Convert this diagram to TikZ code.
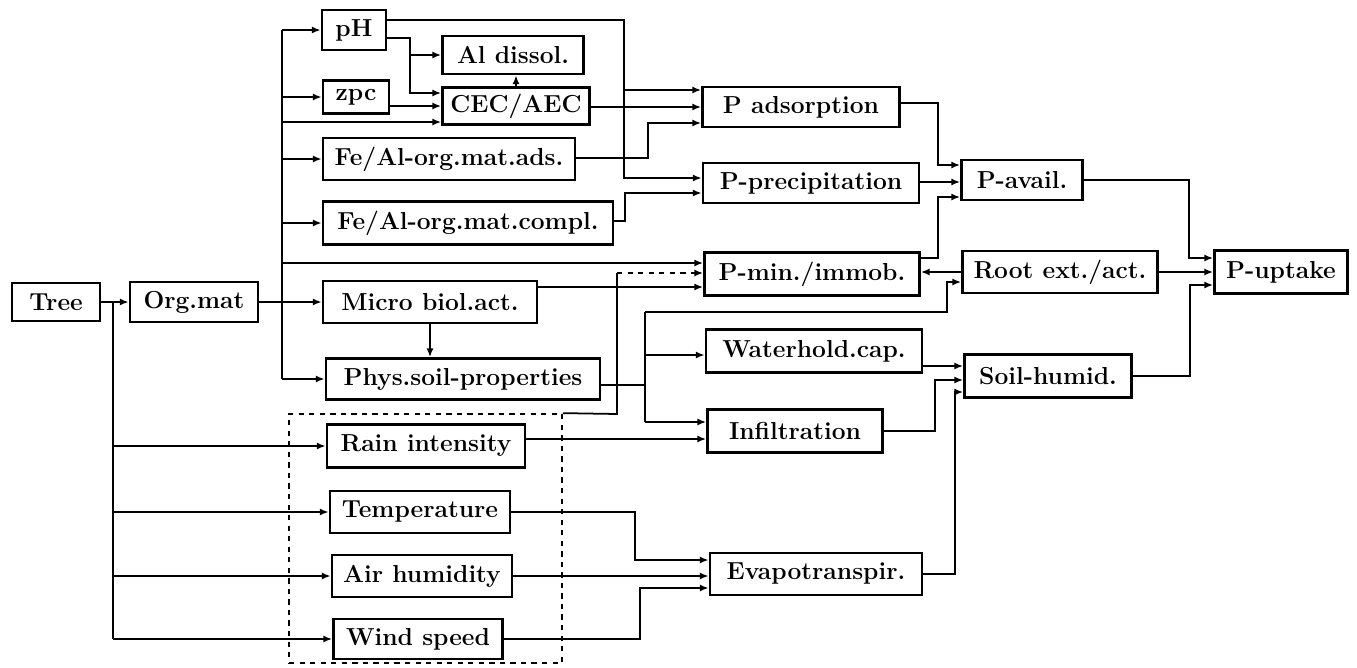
\documentclass[tikz,border=0pt]{standalone}
\usepackage{tikz}
\usetikzlibrary{positioning, arrows.meta}

\newlength{\bu}
\setlength{\bu}{0.02cm}

\begin{document}
\begin{tikzpicture}[x=0.02cm, y=-0.02cm,
    box/.style={draw, line width=1.5pt, inner sep=2pt, fill=white,
      font=\fontsize{14}{16}\selectfont\bfseries},
    dims/.style 2 args={minimum width=#1\bu, minimum height=#2\bu},
    wire/.style={line width=1pt},
    link/.style={line width=1pt, -{Latex[length=5pt,width=4pt]}}]

    \useasboundingbox (0,0) rectangle (1357,667);

    % climate group
    \node[draw, dashed, line width=1pt, dims={273}{249}] (clim) at (425.5,538.5) {};

    \node[box, dims={88}{38}] (tree) at (56,302) {Tree};
    \node[box, dims={128}{40}] (orgmat) at (194,302) {Org.mat};

    \node[box, dims={64}{40}] (ph) at (354,30) {pH};
    \node[box, dims={141}{38}] (aldis) at (513,55) {Al dissol.};
    \node[box, dims={66}{33}] (zpc) at (356,97) {zpc};
    \node[box, dims={147}{37}] (cec) at (516,106) {CEC/AEC};
    \node[box, dims={252}{42}] (feads) at (449,159) {Fe/Al-org.mat.ads.};
    \node[box, dims={290}{43}] (fecompl) at (468,223) {Fe/Al-org.mat.compl.};
    \node[box, dims={214}{42}] (micro) at (430,302) {Micro biol.act.};
    \node[box, dims={274}{41}] (phys) at (463,379) {Phys.soil-properties};

    \node[box, dims={198}{43}] (rain) at (426,446) {Rain intensity};
    \node[box, dims={180}{42}] (temp) at (420,512) {Temperature};
    \node[box, dims={180}{42}] (airh) at (422,576) {Air humidity};
    \node[box, dims={169}{40}] (wind) at (418,639) {Wind speed};

    \node[box, dims={197}{40}] (pads) at (801,107) {P adsorption};
    \node[box, dims={216}{40}] (pprec) at (811,183) {P-precipitation};
    \node[box, dims={215}{43}] (pmin) at (812,274) {P-min./immob.};
    \node[box, dims={216}{43}] (water) at (814,351) {Waterhold.cap.};
    \node[box, dims={175}{43}] (infil) at (795,431) {Infiltration};
    \node[box, dims={212}{42}] (evapo) at (816,574) {Evapotranspir.};

    \node[box, dims={121}{40}] (pavail) at (1022,180) {P-avail.};
    \node[box, dims={195}{42}] (root) at (1060,272) {Root ext./act.};
    \node[box, dims={167}{43}] (soilh) at (1048,376) {Soil-humid.};
    \node[box, dims={133}{43}] (puptake) at (1281,272) {P-uptake};

    \coordinate (trunk) at (282,30);
    \coordinate (tj) at (113,302);

    % tree and organic matter
    \draw[link] (tree) -- (orgmat);
    \draw[link] (orgmat) -- (micro);
    \draw[wire] (tj) -- (tj |- wind.west);
    \draw[link] (tj |- rain.west) -- (rain.west);
    \draw[link] (tj |- temp.west) -- (temp.west);
    \draw[link] (tj |- airh.west) -- (airh.west);
    \draw[link] (tj |- wind.west) -- (wind.west);

    \draw[wire] (trunk) -- (trunk |- phys.west);
    \draw[link] (trunk) -- (ph.west);
    \draw[link] (trunk |- zpc.west) -- (zpc.west);
    \draw[link] (trunk |- 0,122) -- (cec.west |- 0,122);
    \draw[link] (trunk |- feads.west) -- (feads.west);
    \draw[link] (trunk |- fecompl.west) -- (fecompl.west);
    \draw[link] (trunk |- 0,263) -- (pmin.west |- 0,263);
    \draw[link] (trunk |- phys.west) -- (phys.west);

    % soil chemistry
    \draw[link] (ph.east |- 0,20) -| (624,178) -- (pprec.west |- 0,178);
    \draw[link] (624,90) -- (pads.west |- 0,90);
    \draw[link] (ph.east |- 0,38) -| (410,93) -- (cec.west |- 0,93);
    \draw[link] (410,55) -- (aldis.west);
    \draw[link] (zpc.east |- 0,106) -- (cec.west |- 0,106);
    \draw[link] (cec) -- (cec |- aldis.south);
    \draw[link] (cec.east |- 0,107) -- (pads.west |- 0,107);
    \draw[link] (feads.east |- 0,158) -| (648,123) -- (pads.west |- 0,123);
    \draw[link] (fecompl.east |- 0,221) -| (625,193) -- (pprec.west |- 0,193);

    % phosphorus
    \draw[link] (pads.east |- 0,103) -| (938,165) -- (pavail.west |- 0,165);
    \draw[link] (pprec.east |- 0,182) -- (pavail.west |- 0,182);
    \draw[link] (pmin.east |- 0,258) -| (938,197) -- (pavail.west |- 0,197);
    \draw[link] (pavail.east) -| (1189,258) -- (puptake.west |- 0,258);
    \draw[link] (root) -- (puptake);
    \draw[link] (soilh.east) -| (1190,285) -- (puptake.west |- 0,285);
    \draw[link] (root.west) -- (pmin.east |- root.west);
    \draw[link] (micro.east |- 0,287) -- (pmin.west |- 0,287);
    \draw[wire] (clim.north east) -- (617,414) -- (617,273);
    \draw[link, dashed] (617,273) -- (pmin.west |- 0,273);

    % water
    \draw[link] (micro) -- (micro |- phys.north);
    \draw[wire] (phys.east |- 0,385) -- (645,385);
    \draw[wire] (645,312) -- (645,422);
    \draw[link] (645,312) -- (947,312) -- (947,282) -- (root.west |- 0,282);
    \draw[link] (645,355) -- (water.west |- 0,355);
    \draw[link] (645,422) -- (infil.west |- 0,422);
    \draw[link] (rain.east |- 0,439) -- (infil.west |- 0,439);
    \draw[link] (water.east |- 0,366) -- (soilh.west |- 0,366);
    \draw[link] (infil.east) -| (935,380) -- (soilh.west |- 0,380);
    \draw[link] (evapo.east) -| (955,392) -- (soilh.west |- 0,392);
    \draw[link] (temp.east) -| (635,560) -- (evapo.west |- 0,560);
    \draw[link] (airh.east) -- (evapo.west |- airh.east);
    \draw[link] (wind.east) -| (640,588) -- (evapo.west |- 0,588);
\end{tikzpicture}
\end{document}
